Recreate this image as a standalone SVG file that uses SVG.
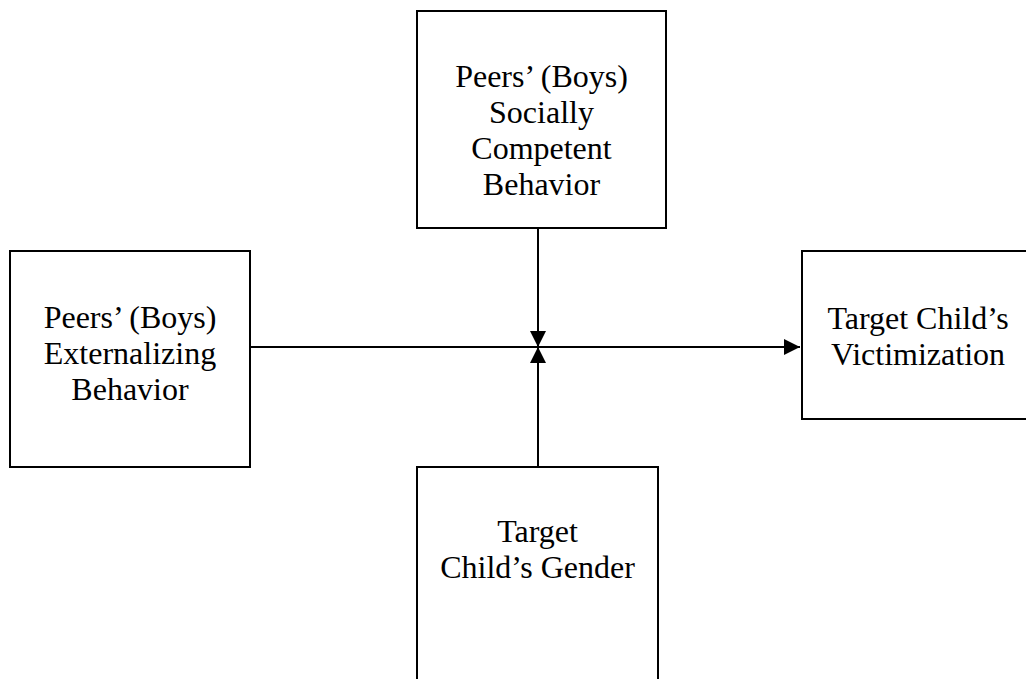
<svg xmlns="http://www.w3.org/2000/svg" width="1026" height="679" viewBox="0 0 1026 679">
  <style>
    .box { fill: #ffffff; stroke: #000000; stroke-width: 2; }
    .lbl { font-family: "Liberation Serif", "Times New Roman", serif; font-size: 32px; fill: #000000; text-anchor: middle; }
    .conn { stroke: #000000; stroke-width: 2; fill: none; marker-end: url(#arrow); }
  </style>
  <defs>
    <marker id="arrow" viewBox="0 0 16 16" refX="16" refY="8" markerWidth="16" markerHeight="16" markerUnits="userSpaceOnUse" orient="auto">
      <path d="M0,0 L16,8 L0,16 Z" fill="#000000"/>
    </marker>
  </defs>
  <rect width="1026" height="679" fill="#ffffff"/>

  <g id="connectors">
    <line class="conn" x1="250" y1="347" x2="800" y2="347"/>
    <line class="conn" x1="538" y1="228" x2="538" y2="347"/>
    <line class="conn" x1="538" y1="467" x2="538" y2="347"/>
  </g>

  <g id="node-socially-competent">
    <rect class="box" x="417" y="11" width="249" height="217"/>
    <text class="lbl" x="541.5" y="87">Peers’ (Boys)</text>
    <text class="lbl" x="541.5" y="123">Socially</text>
    <text class="lbl" x="541.5" y="159">Competent</text>
    <text class="lbl" x="541.5" y="195">Behavior</text>
  </g>

  <g id="node-externalizing">
    <rect class="box" x="10" y="251" width="240" height="216"/>
    <text class="lbl" x="130" y="328">Peers’ (Boys)</text>
    <text class="lbl" x="130" y="364">Externalizing</text>
    <text class="lbl" x="130" y="400">Behavior</text>
  </g>

  <g id="node-victimization">
    <rect class="box" x="802" y="251" width="232" height="168"/>
    <text class="lbl" x="918" y="329">Target Child’s</text>
    <text class="lbl" x="918" y="365">Victimization</text>
  </g>

  <g id="node-gender">
    <rect class="box" x="417" y="467" width="241" height="230"/>
    <text class="lbl" x="537.5" y="542">Target</text>
    <text class="lbl" x="537.5" y="578">Child’s Gender</text>
  </g>
</svg>
